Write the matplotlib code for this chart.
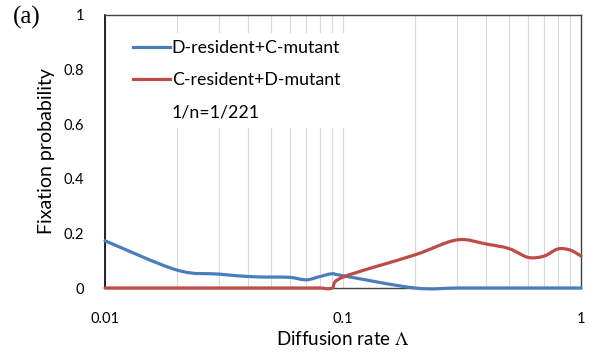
import numpy as np
import matplotlib
matplotlib.use("Agg")
import matplotlib.pyplot as plt
from matplotlib.path import Path
from matplotlib.patches import PathPatch
from matplotlib.lines import Line2D
from matplotlib.ticker import LogLocator, FixedLocator, NullFormatter

# ---- data ----
diffusion = [0.01, 0.02, 0.03, 0.04, 0.05, 0.06, 0.07, 0.08, 0.09, 0.1,
             0.2, 0.3, 0.4, 0.5, 0.6, 0.7, 0.8, 0.9, 1.0]
d_res_c_mut = [0.173, 0.066, 0.051, 0.042, 0.040, 0.039, 0.030, 0.042, 0.052, 0.045,
               0.0, 0.0, 0.0, 0.0, 0.0, 0.0, 0.0, 0.0, 0.0]
c_res_d_mut = [0.0, 0.0, 0.0, 0.0, 0.0, 0.0, 0.0, 0.0, 0.0, 0.040,
               0.121, 0.176, 0.161, 0.144, 0.112, 0.117, 0.143, 0.139, 0.117]
series_labels = ["D-resident+C-mutant", "C-resident+D-mutant"]
note_label = "1/n=1/221"
y_ticks = [0, 0.2, 0.4, 0.6, 0.8, 1]
y_ticklabels = ["0", "0.2", "0.4", "0.6", "0.8", "1"]
x_ticks = [0.01, 0.1, 1]
x_ticklabels = ["0.01", "0.1", "1"]

BLUE = "#4A7EBB"
RED = "#BE4B48"
FONT = ["Lato", "DejaVu Sans"]
plt.rcParams["mathtext.fontset"] = "stix"


def smooth_path(xs, ys):
    # Excel-style smoothed line: Catmull-Rom bezier built in log-x space
    lx = np.log10(np.asarray(xs, float))
    y = np.asarray(ys, float)
    n = len(lx)
    verts = [(xs[0], y[0])]
    codes = [Path.MOVETO]
    for i in range(n - 1):
        i0, i3 = max(i - 1, 0), min(i + 2, n - 1)
        c1 = (lx[i] + (lx[i + 1] - lx[i0]) / 6, y[i] + (y[i + 1] - y[i0]) / 6)
        c2 = (lx[i + 1] - (lx[i3] - lx[i]) / 6, y[i + 1] - (y[i3] - y[i]) / 6)
        verts += [(10 ** c1[0], c1[1]), (10 ** c2[0], c2[1]), (xs[i + 1], y[i + 1])]
        codes += [Path.CURVE4] * 3
    return Path(verts, codes)


fig = plt.figure(figsize=(5.95, 3.54), dpi=100)
ax = fig.add_axes([105 / 595, 1 - 288 / 354, 476 / 595, 273 / 354])
ax.set_xscale("log")
ax.set_xlim(0.01, 1)
ax.set_ylim(0, 1)

ax.xaxis.set_major_locator(FixedLocator(x_ticks))
ax.xaxis.set_minor_locator(LogLocator(base=10, subs=np.arange(2, 10)))
ax.xaxis.set_minor_formatter(NullFormatter())
ax.set_xticklabels(x_ticklabels, fontsize=10.5, family=FONT)
ax.set_yticks(y_ticks)
ax.set_yticklabels(y_ticklabels, fontsize=10.5, family=FONT)
ax.tick_params(axis="both", which="both", length=0)
ax.tick_params(axis="x", pad=17)
ax.tick_params(axis="y", pad=15)
ax.grid(True, axis="x", which="both", color="#D9D9D9", lw=0.8)
ax.set_axisbelow(True)

for side in ("top", "right", "bottom"):
    ax.spines[side].set_color("#404040")
    ax.spines[side].set_linewidth(1.0)
ax.spines["left"].set_color("black")
ax.spines["left"].set_linewidth(1.2)

for ys, col in ((d_res_c_mut, BLUE), (c_res_d_mut, RED)):
    ax.add_patch(PathPatch(smooth_path(diffusion, ys), fill=False, edgecolor=col,
                           lw=2.3, capstyle="round", joinstyle="round",
                           clip_on=False, zorder=3))

handles = [Line2D([], [], color=BLUE, lw=2.3),
           Line2D([], [], color=RED, lw=2.3),
           Line2D([], [], color="none")]
leg = ax.legend(handles, series_labels + [note_label], loc="upper left",
                bbox_to_anchor=(0.044, 0.935), prop={"family": FONT, "size": 12.8},
                frameon=True, facecolor="white", edgecolor="none", framealpha=1,
                fancybox=False, handlelength=2.08, handletextpad=0.1,
                labelspacing=0.92, borderpad=0.4, borderaxespad=0)
leg.set_zorder(2)

ax.set_ylabel("Fixation probability", fontsize=14, family=FONT, labelpad=6.5)
ax.set_xlabel("Diffusion rate $\\Lambda$", fontsize=13.5, family=FONT, labelpad=3)
fig.text(0.022, 0.952, "(a)", fontsize=18, family="Liberation Serif", va="center")

fig.savefig("out.png", dpi=100)
